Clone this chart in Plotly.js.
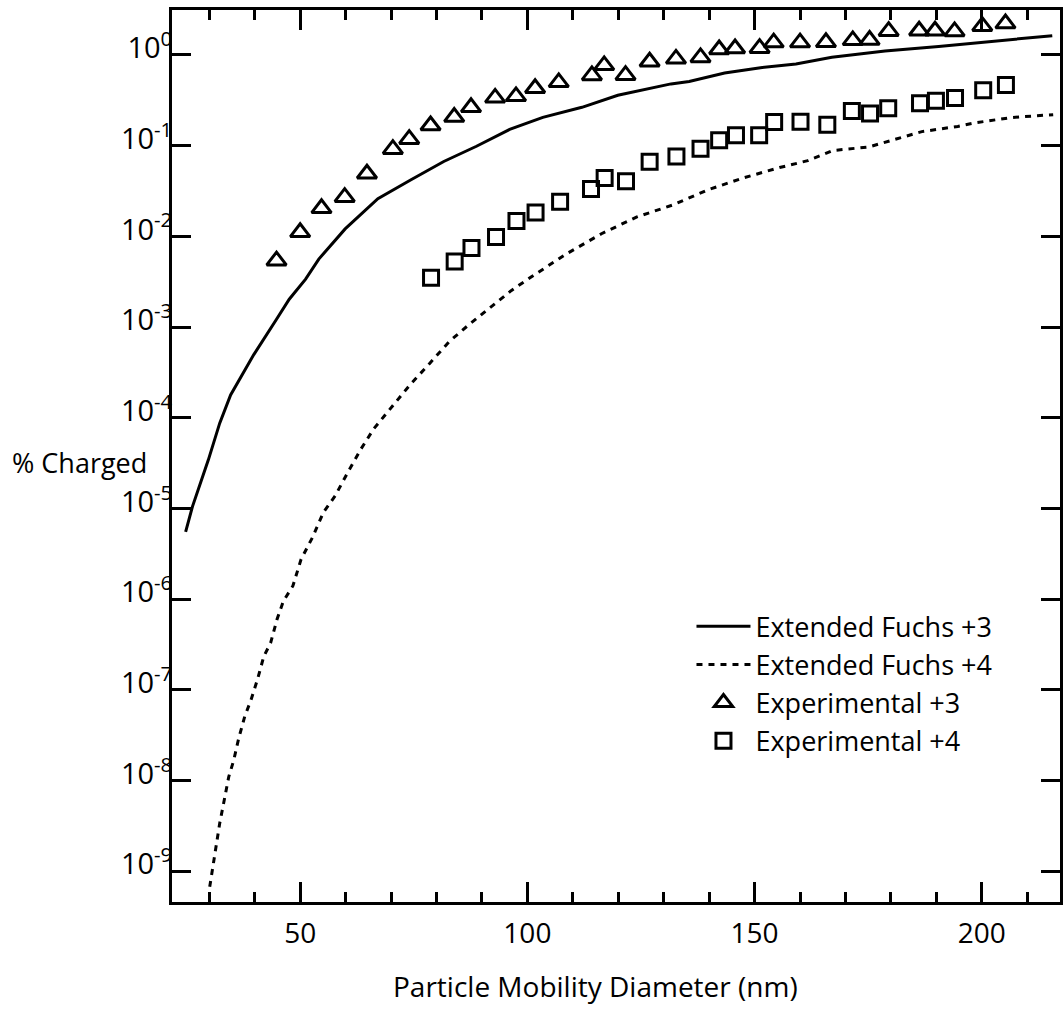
<!DOCTYPE html>
<html>
<head>
<meta charset="utf-8">
<script src="https://cdn.plot.ly/plotly-3.0.1.min.js"></script>
<style>html,body{margin:0;padding:0;background:#fff;}#chart{width:1063px;height:1009px;}</style>
</head>
<body>
<div id="chart"></div>
<script>
// Extended Fuchs +3 (theory, solid)
var fuchs3X = [24.8, 26.3, 29.8, 32.3, 34.7, 39.8, 44.8, 47.6, 51.2, 54.1, 59.9, 67.1, 74.3, 81.6, 88.8, 96.1, 103.4, 112.0, 119.9, 131.6, 135.6, 143.4, 151.3, 159.1, 167.0, 178.7, 190.5, 202.3, 215.5];
var fuchs3Y = [5.53e-6, 1.05e-5, 3.44e-5, 8.73e-5, 1.79e-4, 4.98e-4, 1.22e-3, 2.03e-3, 3.38e-3, 5.62e-3, 0.0121, 0.0261, 0.0418, 0.0670, 0.0986, 0.151, 0.205, 0.265, 0.360, 0.480, 0.511, 0.634, 0.724, 0.795, 0.946, 1.104, 1.242, 1.422, 1.633];

// Extended Fuchs +4 (theory, dashed)
var fuchs4X = [30.1, 30.8, 31.6, 32.3, 33.3, 34.3, 35.4, 36.4, 37.8, 39.2, 40.6, 42.0, 43.5, 44.9, 46.3, 48.4, 50.2, 52.7, 55.1, 57.7, 60.5, 63.4, 66.2, 69.8, 74.1, 78.5, 82.8, 87.1, 91.8, 96.5, 100.9, 108.5, 116.3, 124.1, 132.0, 139.8, 147.6, 155.5, 161.7, 167.2, 175.1, 179.0, 186.8, 194.7, 198.6, 206.4, 215.7];
var fuchs4Y = [6.75e-10, 1.12e-9, 1.87e-9, 3.39e-9, 6.12e-9, 1.11e-8, 1.69e-8, 2.82e-8, 5.09e-8, 7.80e-8, 1.30e-7, 2.34e-7, 3.30e-7, 5.97e-7, 9.51e-7, 1.40e-6, 2.75e-6, 4.79e-6, 9.04e-6, 1.38e-5, 2.51e-5, 4.54e-5, 7.57e-5, 1.26e-4, 2.29e-4, 3.98e-4, 6.93e-4, 1.06e-3, 1.63e-3, 2.54e-3, 3.59e-3, 6.38e-3, 0.0107, 0.0164, 0.0222, 0.0327, 0.0443, 0.0574, 0.0684, 0.0885, 0.0968, 0.110, 0.143, 0.163, 0.179, 0.204, 0.220];

// Experimental +3 (triangles)
var exp3X = [44.8, 50.0, 54.7, 59.8, 64.7, 70.4, 74.0, 78.7, 83.9, 87.6, 92.9, 97.5, 101.7, 106.9, 114.2, 116.9, 121.6, 126.9, 132.7, 138.1, 142.2, 145.7, 151.1, 154.2, 160.0, 165.7, 171.6, 175.3, 179.5, 186.2, 189.7, 194.0, 200.1, 205.2];
var exp3Y = [0.0054, 0.0111, 0.0204, 0.0271, 0.0491, 0.0915, 0.118, 0.167, 0.207, 0.265, 0.337, 0.350, 0.430, 0.499, 0.595, 0.769, 0.599, 0.843, 0.907, 0.941, 1.15, 1.18, 1.19, 1.37, 1.37, 1.38, 1.45, 1.46, 1.83, 1.85, 1.85, 1.82, 2.08, 2.22];

// Experimental +4 (squares)
var exp4X = [78.8, 84.0, 87.7, 93.1, 97.6, 101.8, 107.2, 114.0, 117.0, 121.7, 126.9, 132.8, 138.1, 142.2, 145.9, 151.0, 154.3, 160.1, 166.0, 171.4, 175.4, 179.4, 186.4, 189.9, 194.1, 200.3, 205.3];
var exp4Y = [0.00351, 0.0053, 0.00745, 0.00982, 0.0148, 0.0183, 0.0241, 0.0334, 0.0440, 0.0406, 0.0665, 0.0759, 0.0927, 0.115, 0.130, 0.130, 0.183, 0.184, 0.170, 0.241, 0.226, 0.258, 0.294, 0.313, 0.336, 0.409, 0.467];

var seriesNames = ["Extended Fuchs +3", "Extended Fuchs +4", "Experimental +3", "Experimental +4"];

var yTickVals = [1e-9, 1e-8, 1e-7, 1e-6, 1e-5, 1e-4, 1e-3, 1e-2, 1e-1, 1];
var yTickText = ["10<sup>-9</sup>", "10<sup>-8</sup>", "10<sup>-7</sup>", "10<sup>-6</sup>", "10<sup>-5</sup>", "10<sup>-4</sup>", "10<sup>-3</sup>", "10<sup>-2</sup>", "10<sup>-1</sup>", "10<sup>0</sup>"];

var xTitle = "Particle Mobility Diameter (nm)";
var yTitle = "% Charged";

var FONT = "Open Sans, Noto Sans, sans-serif";

var traces = [
  {x: fuchs3X, y: fuchs3Y, name: seriesNames[0], type: "scatter", mode: "lines",
   line: {color: "#000", width: 3}},
  {x: fuchs4X, y: fuchs4Y, name: seriesNames[1], type: "scatter", mode: "lines",
   line: {color: "#000", width: 3, dash: "6px,6px"}},
  {x: exp3X, y: exp3Y, name: seriesNames[2], type: "scatter", mode: "markers",
   marker: {symbol: "triangle-up-open", size: 17, color: "#000", line: {width: 3, color: "#000"}}},
  {x: exp4X, y: exp4Y, name: seriesNames[3], type: "scatter", mode: "markers",
   marker: {symbol: "square-open", size: 15, color: "#000", line: {width: 3, color: "#000"}}}
];

var layout = {
  width: 1063, height: 1009,
  margin: {l: 172, r: 3, t: 10, b: 107},
  paper_bgcolor: "#fff", plot_bgcolor: "#fff",
  font: {family: FONT, color: "#000", size: 27},
  showlegend: true,
  legend: {x: 0.585, y: 0.336, xanchor: "left", yanchor: "top",
           bgcolor: "rgba(0,0,0,0)", borderwidth: 0,
           font: {family: FONT, size: 27, color: "#000"},
           itemwidth: 54, tracegroupgap: 0},
  xaxis: {
    type: "linear", range: [21.8, 217.2],
    showgrid: false, zeroline: false,
    showline: true, linecolor: "#000", linewidth: 3, mirror: "ticks",
    ticks: "inside", ticklen: 20, tickwidth: 3, tickcolor: "#000",
    tick0: 0, dtick: 50,
    ticklabelstandoff: 4,
    tickfont: {family: FONT, size: 28, color: "#000"},
    minor: {ticks: "inside", ticklen: 10, tickwidth: 3, tickcolor: "#000", tick0: 0, dtick: 10, showgrid: false}
  },
  yaxis: {
    type: "log", range: [-9.338, 0.496],
    showgrid: false, zeroline: false,
    showline: true, linecolor: "#000", linewidth: 3, mirror: "ticks",
    ticks: "inside", ticklen: 19, tickwidth: 3, tickcolor: "#000",
    tickmode: "array", tickvals: yTickVals, ticktext: yTickText,
    ticklabelstandoff: -9, ticklabelshift: -7,
    tickfont: {family: FONT, size: 29, color: "#000"}
  },
  annotations: [
    {text: yTitle, xref: "paper", yref: "paper", x: -0.182, y: 0.4931,
     xanchor: "left", yanchor: "middle", showarrow: false,
     font: {family: FONT, size: 27, color: "#000"}},
    {text: xTitle, xref: "paper", yref: "paper", x: 0.477, y: -0.0946,
     xanchor: "center", yanchor: "middle", showarrow: false,
     font: {family: FONT, size: 28, color: "#000"}}
  ]
};

Plotly.newPlot("chart", traces, layout, {displayModeBar: false});
</script>
</body>
</html>
